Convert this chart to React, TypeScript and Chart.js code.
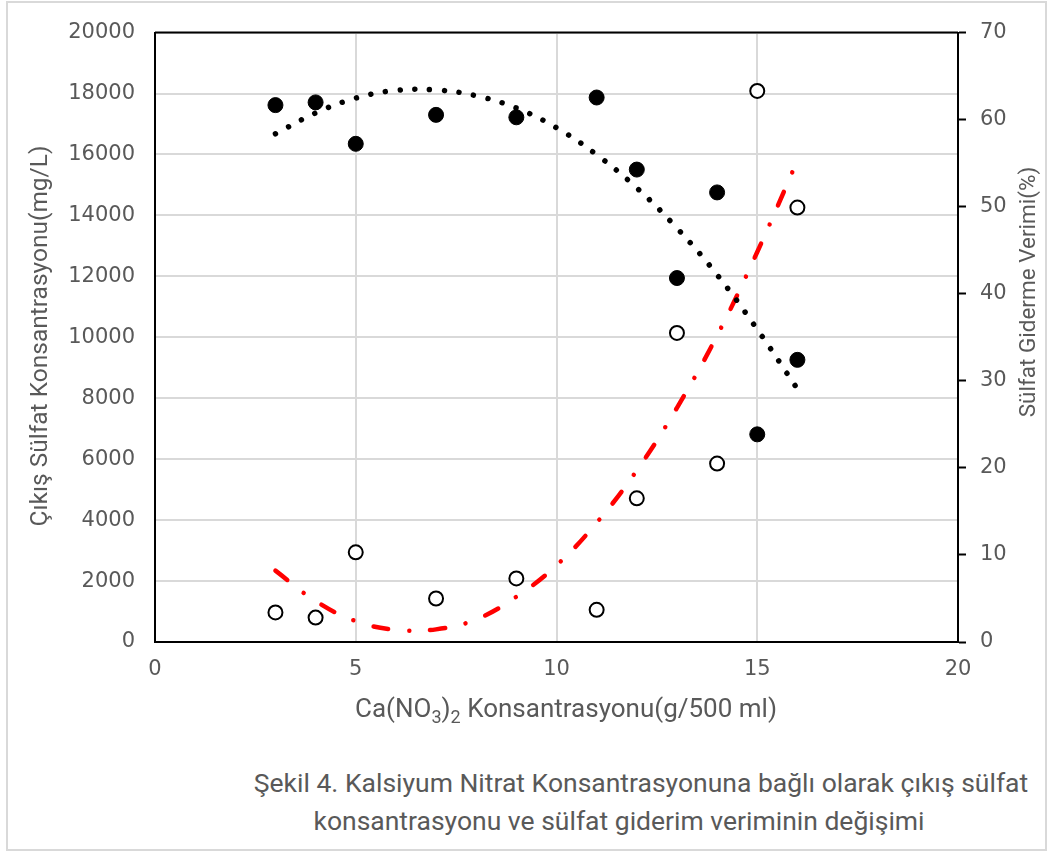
import { useEffect, useRef } from "react";
import { Chart, registerables } from "chart.js";

Chart.register(...registerables);

// Ca(NO3)2 concentration (g/500 ml)
const concentrations = [3, 4, 5, 7, 9, 11, 12, 13, 14, 15, 16];
// Outlet sulfate concentration (mg/L) – filled markers, left axis
const sulfateOut = [17620, 17710, 16350, 17300, 17220, 17870, 15505, 11945, 14755, 6815, 9260];
// Sulfate removal efficiency (%) – open markers, right axis
const removalEff = [3.4, 2.8, 10.3, 5.0, 7.3, 3.7, 16.5, 35.5, 20.5, 63.3, 49.9];

// Trend lines
const trendX = [3, 4, 5, 6, 7, 8, 9, 10, 11, 12, 13, 14, 15, 16];
const sulfateTrend = [16678, 17362, 17850, 18104, 18117, 17928, 17524, 16879, 15993, 14902, 13583, 12052, 10261, 8306];
const effTrend = [8.2, 4.7, 2.4, 1.4, 1.45, 2.6, 5.2, 8.8, 13.7, 19.7, 26.9, 35.2, 44.8, 55.3];

const leftTitle = "Çıkış Sülfat Konsantrasyonu(mg/L)";
const rightTitle = "Sülfat Giderme Verimi(%)";
const xTitleParts = [
  { t: "Ca(NO", sub: false },
  { t: "3", sub: true },
  { t: ")", sub: false },
  { t: "2", sub: true },
  { t: " Konsantrasyonu(g/500 ml)", sub: false },
];
const captionLines = [
  "Şekil 4. Kalsiyum Nitrat Konsantrasyonuna bağlı olarak çıkış sülfat",
  "konsantrasyonu ve sülfat giderim veriminin değişimi",
];

const GRAY = "#595959";
const TICK_FONT = { family: "'DejaVu Sans', sans-serif", size: 21 };
const TITLE_FONT = "Roboto, 'Liberation Sans', sans-serif";
const plainTick = (v: any) => String(v);

const overlay = {
  id: "overlay",
  afterDraw(chart: any) {
    const { ctx, chartArea: a } = chart;
    ctx.save();
    // top frame line
    ctx.strokeStyle = "#000";
    ctx.lineWidth = 2;
    ctx.beginPath();
    ctx.moveTo(a.left, a.top);
    ctx.lineTo(a.right, a.top);
    ctx.stroke();

    ctx.fillStyle = GRAY;
    ctx.textAlign = "center";
    ctx.textBaseline = "middle";
    // left title
    ctx.font = `24.5px ${TITLE_FONT}`;
    ctx.save();
    ctx.translate(41, 336);
    ctx.rotate(-Math.PI / 2);
    ctx.fillText(leftTitle, 0, 0);
    ctx.restore();
    // right title
    ctx.font = `22.5px ${TITLE_FONT}`;
    ctx.save();
    ctx.translate(1029, 292);
    ctx.rotate(-Math.PI / 2);
    ctx.fillText(rightTitle, 0, 0);
    ctx.restore();

    // x title with subscripts
    const mainFont = `26px ${TITLE_FONT}`;
    const subFont = `18px ${TITLE_FONT}`;
    let total = 0;
    for (const p of xTitleParts) {
      ctx.font = p.sub ? subFont : mainFont;
      total += ctx.measureText(p.t).width;
    }
    let x = 566 - total / 2;
    const y = 717;
    ctx.textAlign = "left";
    ctx.textBaseline = "alphabetic";
    for (const p of xTitleParts) {
      ctx.font = p.sub ? subFont : mainFont;
      ctx.fillText(p.t, x, p.sub ? y + 6 : y);
      x += ctx.measureText(p.t).width;
    }
    ctx.restore();
  },
};

export default function App() {
  const ref = useRef<HTMLCanvasElement>(null);

  useEffect(() => {
    const chart = new Chart(ref.current as HTMLCanvasElement, {
      type: "scatter",
      data: {
        datasets: [
          {
            type: "line",
            data: trendX.map((x, i) => ({ x, y: sulfateTrend[i] })),
            yAxisID: "y",
            borderColor: "#000",
            borderWidth: 5.5,
            borderDash: [0.001, 14.8],
            borderCapStyle: "round",
            pointRadius: 0,
            tension: 0.4,
            fill: false,
            order: 1,
          } as any,
          {
            type: "line",
            data: trendX.map((x, i) => ({ x, y: effTrend[i] })),
            yAxisID: "y1",
            borderColor: "#ff0000",
            borderWidth: 4.5,
            borderDash: [15, 21, 0.001, 21],
            borderCapStyle: "round",
            pointRadius: 0,
            tension: 0.4,
            fill: false,
            order: 1,
          } as any,
          {
            data: concentrations.map((x, i) => ({ x, y: sulfateOut[i] })),
            yAxisID: "y",
            pointRadius: 7.5,
            backgroundColor: "#000",
            borderColor: "#000",
            borderWidth: 1,
            order: 2,
          },
          {
            data: concentrations.map((x, i) => ({ x, y: removalEff[i] })),
            yAxisID: "y1",
            pointRadius: 7,
            backgroundColor: "#fff",
            borderColor: "#000",
            borderWidth: 2,
            order: 2,
          },
        ],
      },
      options: {
        responsive: false,
        animation: false,
        events: [],
        layout: { padding: { top: 28, left: 0, right: 0, bottom: 0 } },
        plugins: { legend: { display: false }, tooltip: { enabled: false } },
        scales: {
          x: {
            type: "linear",
            min: 0,
            max: 20,
            ticks: { stepSize: 5, color: GRAY, font: TICK_FONT, padding: 15, callback: plainTick },
            grid: { color: "#d9d9d9", lineWidth: 2, drawTicks: false },
            border: { display: true, color: "#000", width: 2 },
            afterFit: (s: any) => {
              s.height = 98;
            },
          },
          y: {
            type: "linear",
            position: "left",
            min: 0,
            max: 20000,
            ticks: { stepSize: 2000, color: GRAY, font: TICK_FONT, padding: 20, callback: plainTick },
            grid: { color: "#d9d9d9", lineWidth: 2, drawTicks: false },
            border: { display: true, color: "#000", width: 2 },
            afterFit: (s: any) => {
              s.width = 155;
            },
          },
          y1: {
            type: "linear",
            position: "right",
            min: 0,
            max: 70,
            ticks: { stepSize: 10, color: GRAY, font: TICK_FONT, padding: 14, callback: plainTick },
            grid: {
              drawOnChartArea: false,
              drawTicks: true,
              tickLength: 8,
              tickColor: "#000",
              tickWidth: 2,
            },
            border: { display: true, color: "#000", width: 2 },
            afterFit: (s: any) => {
              s.width = 90;
            },
          },
        },
      },
      plugins: [overlay],
    } as any);
    return () => chart.destroy();
  }, []);

  const captionStyle = {
    position: "absolute" as const,
    width: 1000,
    textAlign: "center" as const,
    fontFamily: TITLE_FONT,
    fontSize: 26.5,
    lineHeight: "38px",
    color: GRAY,
    whiteSpace: "nowrap" as const,
  };

  return (
    <div
      style={{
        position: "absolute",
        left: 0,
        top: 0,
        width: 1048,
        height: 852,
        background: "#fff",
        overflow: "hidden",
      }}
    >
      <div
        style={{
          position: "absolute",
          left: 6,
          top: 1,
          width: 1041,
          height: 850,
          border: "2px solid #d9d9d9",
          boxSizing: "border-box",
        }}
      />
      <canvas
        ref={ref}
        width={1048}
        height={740}
        style={{ position: "absolute", left: 0, top: 0, width: 1048, height: 740 }}
      />
      <div style={{ ...captionStyle, left: 141, top: 764 }}>{captionLines[0]}</div>
      <div style={{ ...captionStyle, left: 119, top: 802 }}>{captionLines[1]}</div>
    </div>
  );
}
